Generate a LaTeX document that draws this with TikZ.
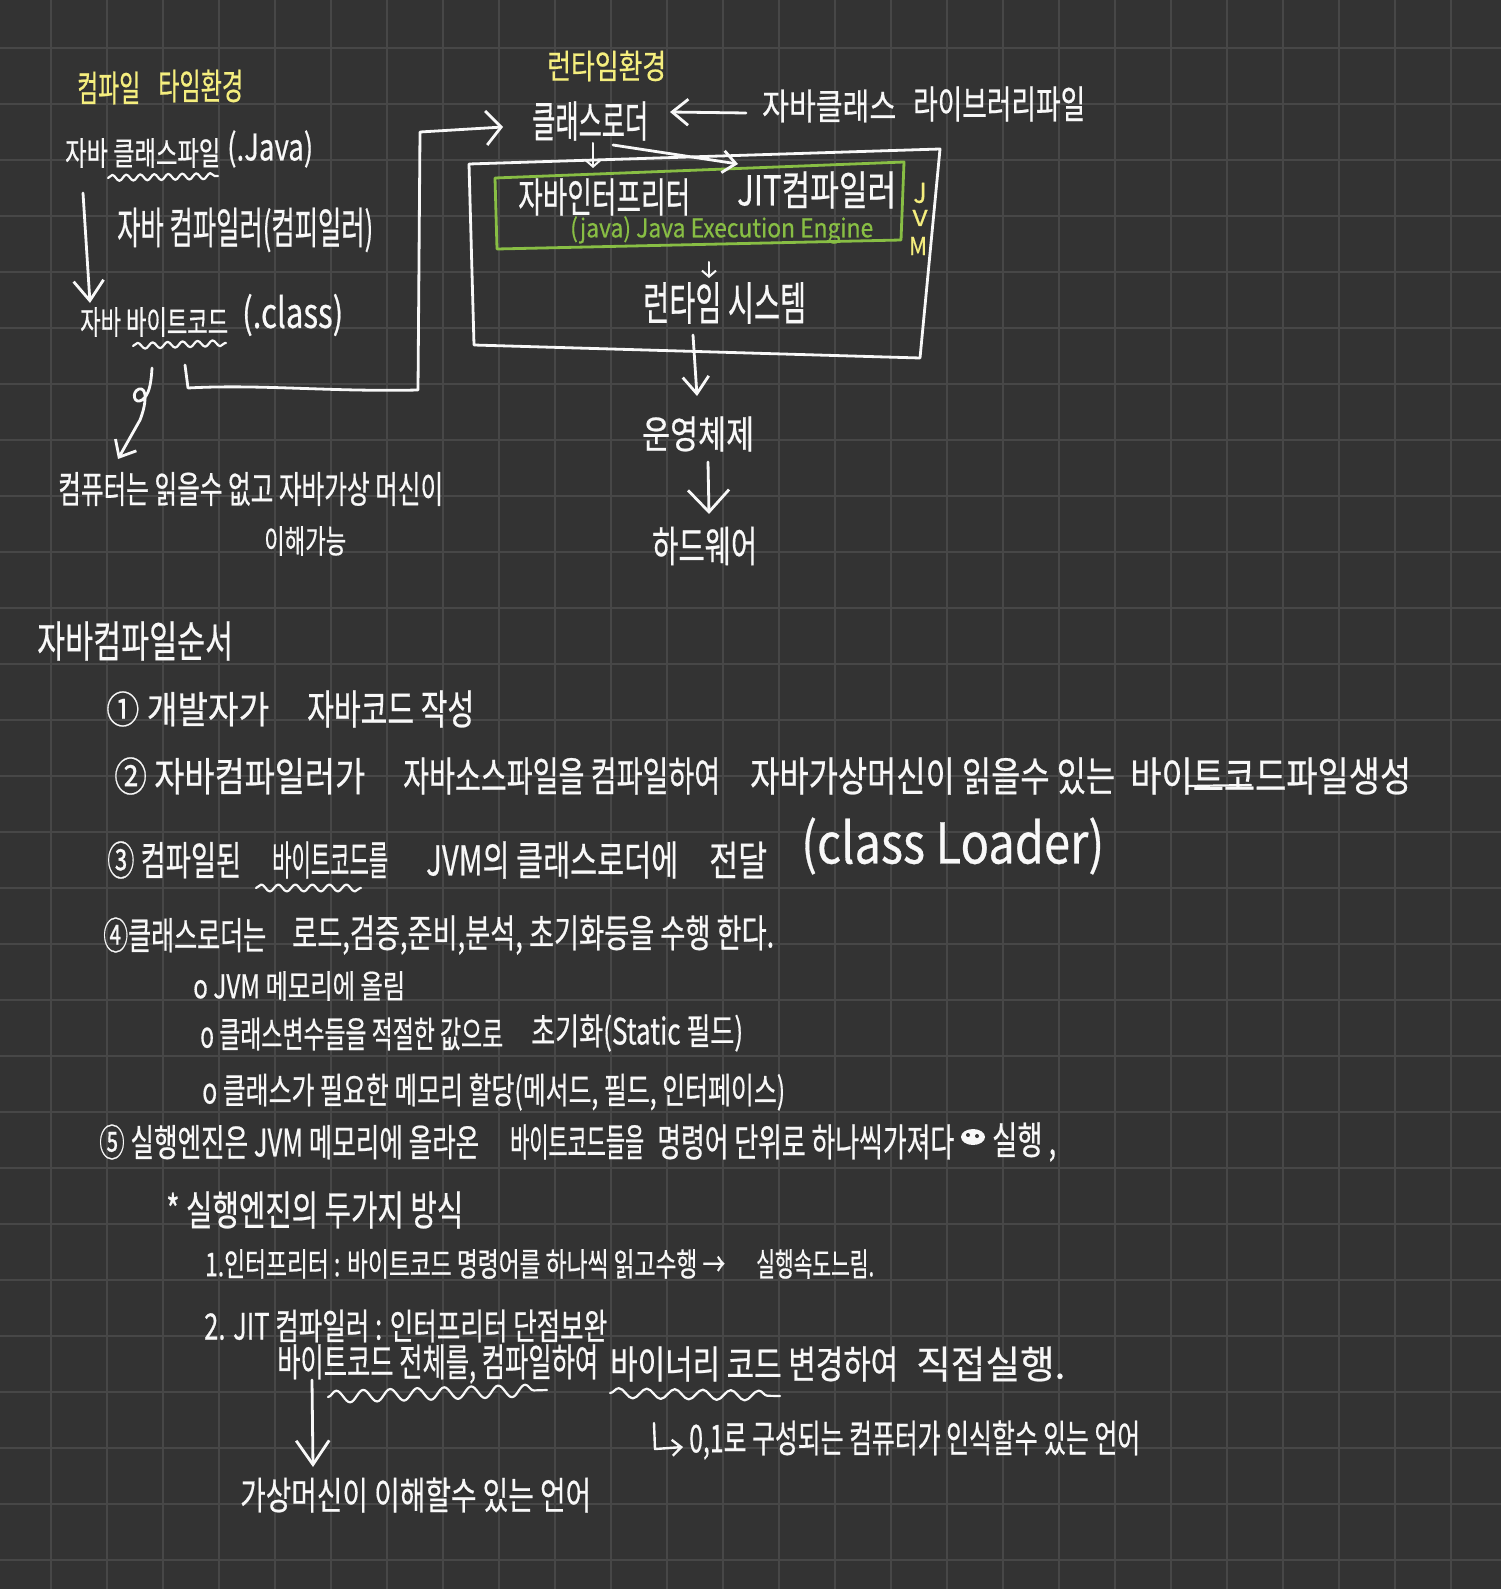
\documentclass[tikz,border=0pt]{standalone}
\usepackage{fontspec}
\setmainfont[FakeBold=0.6]{Noto Sans CJK KR}
\usepackage{graphicx}
\usetikzlibrary{arrows.meta,decorations.pathmorphing}
\definecolor{bg}{HTML}{333333}
\definecolor{gridc}{HTML}{474747}
\definecolor{ink}{HTML}{F8F8F8}
\definecolor{yel}{HTML}{F5EE7E}
\definecolor{grn}{HTML}{88BE44}
\newcommand\hw[3]{\resizebox{#1pt}{#2pt}{#3}}
\tikzset{
  txt/.style={inner sep=0pt, anchor=west, text=ink},
  ytxt/.style={txt, text=yel},
  gtxt/.style={txt, text=grn},
  con/.style={draw=ink, line width=2.8pt, line cap=round, line join=round},
  hd/.style 2 args={-{Straight Barb[length=#1pt,width=#2pt]}},
  wave/.style 2 args={con, line width=2.2pt, decorate, decoration={snake, amplitude=#1pt, segment length=#2pt}},
  gridline/.style={draw=gridc, line width=2pt},
  boxline/.style={draw=ink, line width=2.8pt, line join=round},
  gboxline/.style={draw=grn, line width=2.8pt, line join=round},
}
\begin{document}
\begin{tikzpicture}[x=1pt,y=-1pt,font=\fontsize{28}{34}\selectfont]
\fill[bg] (0,0) rectangle (1501,1589);
\useasboundingbox (0,0) rectangle (1501,1589);
\foreach \i in {0,...,25} \draw[gridline] ({51+56*\i},0) -- ({51+56*\i},1589);
\foreach \j in {0,...,27} \draw[gridline] (0,{48+56*\j}) -- (1501,{48+56*\j});

% ---------- compile-time side ----------
\node[ytxt] (ct1) at (77,88) {\hw{63}{30}{컴파일}};
\node[ytxt] (ct2) at (158,86) {\hw{85}{30}{타임환경}};
\node[txt] (srcA) at (65,153) {\hw{155}{27}{자바 클래스파일}};
\node[txt] (srcB) at (227,149) {\hw{86}{30}{(.Java)}};
\node[txt] (javac) at (117,230) {\hw{256}{36}{자바 컴파일러(컴피일러)}};
\node[txt] (bcA) at (80,322) {\hw{148}{27}{자바 바이트코드}};
\node[txt] (bcB) at (242,315) {\hw{101}{34}{(.class)}};
\node[txt] (cant) at (58,489) {\hw{385}{31}{컴퓨터는 읽을수 없고  자바가상 머신이}};
\node[txt] (can) at (264,541) {\hw{82}{27}{이해가능}};

\draw[wave={3}{14}] (108,178) -- (218,176);
\draw[wave={3}{15}] (133,346) -- (226,343);

\coordinate (a1s) at (83,193);
\coordinate (a1e) at (90,303);
\draw[con, hd={20}{30}] (a1s) -- (a1e);

\coordinate (c1s) at (152,368);
\coordinate (c1e) at (118,459);
\draw[con, hd={14}{24}] (c1s) .. controls (151,385) and (149,395) .. (142,400)
  .. controls (134,405) and (131,392) .. (139,389)
  .. controls (148,387) and (146,405) .. (140,420) -- (c1e);

\coordinate (l1s) at (185,365);
\coordinate (l1e) at (503,127);
\draw[con, hd={15}{34}] (l1s) -- (188,388) .. controls (260,384) and (330,392) .. (418,390) -- (420,132) -- (l1e);

% ---------- run-time side ----------
\node[ytxt] (rt) at (547,66) {\hw{119}{28}{런타임환경}};
\node[txt] (loader) at (532,121) {\hw{116}{36}{클래스로더}};
\node[txt] (libA) at (762,106) {\hw{134}{30}{자바클래스}};
\node[txt] (libB) at (913,104) {\hw{172}{32}{라이브러리파일}};

\coordinate (jvmTL) at (469,164);
\coordinate (jvmTR) at (940,149);
\coordinate (jvmBR) at (920,358);
\coordinate (jvmBL) at (474,345);
\draw[boxline] (jvmTL) -- (jvmTR) -- (jvmBR) -- (jvmBL) -- cycle;

\coordinate (eeTL) at (495,178);
\coordinate (eeTR) at (904,162);
\coordinate (eeBR) at (901,240);
\coordinate (eeBL) at (497,249);
\draw[gboxline] (eeTL) -- (eeTR) -- (eeBR) -- (eeBL) -- cycle;

\node[txt] (interp) at (518,197) {\hw{172}{34}{자바인터프리터}};
\node[txt] (jit) at (737,190) {\hw{159}{34}{JIT컴파일러}};
\node[gtxt] (ee) at (570,230) {\hw{303}{21}{(java) Java Execution Engine}};
\node[ytxt, anchor=center] (jJ) at (920,193) {\hw{13}{20}{J}};
\node[ytxt, anchor=center] (jV) at (920,218) {\hw{15}{16}{V}};
\node[ytxt, anchor=center] (jM) at (918,246) {\hw{18}{18}{M}};
\node[txt] (rts) at (643,303) {\hw{163}{38}{런타임 시스템}};
\node[txt] (os) at (642,434) {\hw{112}{32}{운영체제}};
\node[txt] (hw) at (652,546) {\hw{105}{35}{하드웨어}};

\coordinate (libS) at (746,113);
\coordinate (libE) at (670,112);
\draw[con, hd={16}{26}] (libS) -- (libE);
\coordinate (ldI1) at (593,143);
\coordinate (ldI2) at (593,168);
\draw[con, line width=2pt, hd={7}{16}] (ldI1) -- (ldI2);
\coordinate (ldJ1) at (613,145);
\coordinate (ldJ2) at (738,164);
\draw[con, hd={13}{22}] (ldJ1) -- (ldJ2);
\coordinate (eeR1) at (709,262);
\coordinate (eeR2) at (709,278);
\draw[con, line width=2pt, hd={6}{14}] (eeR1) -- (eeR2);
\coordinate (jvmO) at (693,335);
\draw[con, hd={17}{26}] (jvmO) -- (697,396);
\draw[con, hd={22}{41}] (708,462) -- (709,514);

% ---------- compile order ----------
\node[txt] (t0) at (37,641) {\hw{196}{36}{자바컴파일순서}};
\node[txt] (s1a) at (106,709) {\hw{163}{32}{① 개발자가}};
\node[txt] (s1b) at (307,709) {\hw{167}{34}{자바코드 작성}};

\node[txt] (s2a) at (114,776) {\hw{251}{34}{② 자바컴파일러가}};
\node[txt] (s2b) at (403,776) {\hw{317}{34}{자바소스파일을 컴파일하여}};
\node[txt] (s2c) at (750,776) {\hw{365}{34}{자바가상머신이 읽을수 있는}};
\node[txt] (s2d) at (1130,776) {\hw{281}{34}{바이트코드파일생성}};
\draw[con, line width=2.2pt] (1187,786) -- (1251,785);

\node[txt] (s3a) at (107,860) {\hw{134}{34}{③ 컴파일된}};
\node[txt] (s3b) at (272,860) {\hw{116}{34}{바이트코드를}};
\node[txt] (s3c) at (426,860) {\hw{252}{34}{JVM의 클래스로더에}};
\node[txt] (s3d) at (709,860) {\hw{58}{34}{전달}};
\node[txt] (s3e) at (801,846) {\hw{303}{46}{(class Loader)}};
\draw[wave={3.5}{17}] (256,888) -- (361,888);

\node[txt] (s4a) at (103,935) {\hw{163}{32}{④클래스로더는}};
\node[txt] (s4b) at (292,935) {\hw{482}{32}{로드,검증,준비,분석, 초기화등을 수행 한다.}};
\node[txt] (s4c) at (193,986) {\hw{212}{27}{o JVM 메모리에 올림}};
\node[txt] (s4d) at (200,1034) {\hw{303}{30}{o 클래스변수들을 적절한 값으로}};
\node[txt] (s4e) at (531,1033) {\hw{212}{30}{초기화(Static 필드)}};
\node[txt] (s4f) at (202,1092) {\hw{583}{30}{o 클래스가 필요한 메모리 할당(메서드, 필드, 인터페이스)}};

\node[txt] (s5a) at (99,1142) {\hw{380}{32}{⑤ 실행엔진은 JVM 메모리에 올라온}};
\node[txt] (s5b) at (510,1142) {\hw{134}{32}{바이트코드들을}};
\node[txt] (s5c) at (657,1142) {\hw{297}{32}{명령어 단위로 하나씩가져다}};
\fill[ink] (973,1137) ellipse [x radius=12pt, y radius=8pt];
\fill[bg] (968,1135) circle [radius=2pt];
\fill[bg] (977,1136) circle [radius=2pt];
\node[txt] (s5d) at (992,1142) {\hw{64}{32}{실행 ,}};

\node[txt] (s6) at (166,1210) {\hw{297}{34}{* 실행엔진의 두가지 방식}};
\node[txt] (s7a) at (205,1264) {\hw{520}{27}{1.인터프리터 : 바이트코드 명령어를 하나씩 읽고수행 →}};
\node[txt] (s7b) at (756,1264) {\hw{118}{27}{실행속도느림.}};
\node[txt] (s8) at (204,1326) {\hw{403}{30}{2. JIT 컴파일러 : 인터프리터 단점보완}};
\node[txt] (s9a) at (277,1364) {\hw{321}{32}{바이트코드 전체를, 컴파일하여}};
\node[txt] (s9b) at (610,1364) {\hw{288}{32}{바이너리 코드 변경하여}};
\node[txt] (s9c) at (916,1364) {\hw{149}{32}{직접실행.}};
\draw[wave={6}{27}] (328,1397) -- (547,1390);
\draw[wave={5}{28}] (610,1393) -- (780,1396);

\coordinate (dS) at (312,1380);
\draw[con, hd={24}{33}] (dS) -- (313,1467);
\node[txt] (s10) at (240,1495) {\hw{351}{32}{가상머신이 이해할수 있는 언어}};

\coordinate (bS) at (654,1423);
\draw[con, line width=2.4pt, hd={9}{16}] (bS) -- (655,1449) -- (683,1447);
\node[txt] (s11) at (689,1440) {\hw{451}{32}{0,1로 구성되는 컴퓨터가 인식할수 있는 언어}};
\end{tikzpicture}
\end{document}
